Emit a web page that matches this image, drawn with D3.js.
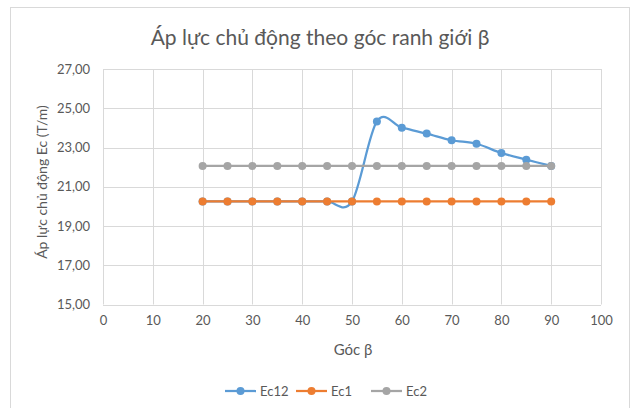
<!DOCTYPE html>
<html>
<head>
<meta charset="utf-8">
<script src="https://cdn.jsdelivr.net/npm/d3@7/dist/d3.min.js"></script>
<style>
  html, body { margin: 0; padding: 0; background: #fff; }
  svg { display: block; font-family: Lato, "Noto Sans", sans-serif; }
</style>
</head>
<body>
<svg id="chart" width="631" height="408"></svg>
<script>
// Góc ranh giới β (degrees)
const angles = [20, 25, 30, 35, 40, 45, 50, 55, 60, 65, 70, 75, 80, 85, 90];
// Áp lực chủ động (T/m)
const ec12 = [20.25, 20.25, 20.25, 20.25, 20.25, 20.25, 20.25, 24.33, 24.01, 23.71, 23.37, 23.19, 22.72, 22.38, 22.06];
const ec1  = [20.25, 20.25, 20.25, 20.25, 20.25, 20.25, 20.25, 20.25, 20.25, 20.25, 20.25, 20.25, 20.25, 20.25, 20.25];
const ec2  = [22.06, 22.06, 22.06, 22.06, 22.06, 22.06, 22.06, 22.06, 22.06, 22.06, 22.06, 22.06, 22.06, 22.06, 22.06];
const seriesNames = ["Ec12", "Ec1", "Ec2"];
const seriesColors = ["#5B9BD5", "#ED7D31", "#A5A5A5"];
const xTicks = [0, 10, 20, 30, 40, 50, 60, 70, 80, 90, 100];
const yTicks = [15, 17, 19, 21, 23, 25, 27];

const svg = d3.select("#chart");
const textColor = "#595959";
const gridColor = "#D9D9D9";
const fontFamily = "Lato, 'Noto Sans', sans-serif";

// chart frame
svg.append("rect")
  .attr("x", 10.5).attr("y", 7.5)
  .attr("width", 619).attr("height", 410)
  .attr("fill", "#fff").attr("stroke", "#D9D9D9").attr("stroke-width", 1);

const plot = { left: 103, right: 601, top: 69, bottom: 304.5 };
const x = d3.scaleLinear().domain([0, 100]).range([plot.left, plot.right]);
const y = d3.scaleLinear().domain([15, 27]).range([plot.bottom, plot.top]);

const fmt = v => d3.format(".2f")(v).replace(".", ",");

// gridlines
const grid = svg.append("g");
grid.selectAll("line.h").data(yTicks).join("line")
  .attr("x1", plot.left).attr("x2", plot.right)
  .attr("y1", d => Math.round(y(d)) + 0.5).attr("y2", d => Math.round(y(d)) + 0.5)
  .attr("stroke", gridColor).attr("stroke-width", 1);
grid.selectAll("line.v").data(xTicks).join("line")
  .attr("y1", plot.top).attr("y2", plot.bottom)
  .attr("x1", d => Math.round(x(d)) + 0.5).attr("x2", d => Math.round(x(d)) + 0.5)
  .attr("stroke", gridColor).attr("stroke-width", 1);

// axes (labels only)
const xAxis = svg.append("g")
  .attr("transform", `translate(0,${plot.bottom})`)
  .call(d3.axisBottom(x).tickValues(xTicks).tickSize(0).tickPadding(11).tickFormat(d3.format("d")));
xAxis.select(".domain").remove();
xAxis.selectAll("text").attr("fill", textColor).attr("font-size", 13).attr("font-family", fontFamily);

const yAxis = svg.append("g")
  .attr("transform", `translate(${plot.left},0)`)
  .call(d3.axisLeft(y).tickValues(yTicks).tickSize(0).tickPadding(13).tickFormat(fmt));
yAxis.select(".domain").remove();
yAxis.selectAll("text").attr("fill", textColor).attr("font-size", 13).attr("font-family", fontFamily);

// titles
svg.append("text")
  .attr("x", 320).attr("y", 45)
  .attr("text-anchor", "middle")
  .attr("fill", textColor).attr("font-size", 21)
  .text("Áp lực chủ động theo góc ranh giới β");

svg.append("text")
  .attr("x", 353).attr("y", 355)
  .attr("text-anchor", "middle")
  .attr("fill", textColor).attr("font-size", 15)
  .text("Góc β");

svg.append("text")
  .attr("transform", "translate(47,182) rotate(-90)")
  .attr("text-anchor", "middle")
  .attr("fill", textColor).attr("font-size", 14)
  .text("Áp lực chủ động Ec (T/m)");

// series
const allSeries = [ec12, ec1, ec2].map((vals, i) => ({
  name: seriesNames[i],
  color: seriesColors[i],
  points: angles.map((a, j) => ({ a, v: vals[j] }))
}));

const line = d3.line()
  .x(d => x(d.a)).y(d => y(d.v))
  .curve(d3.curveCardinal.tension(0));

const series = svg.append("g").selectAll("g").data(allSeries).join("g");
series.append("path")
  .attr("d", d => line(d.points))
  .attr("fill", "none")
  .attr("stroke", d => d.color)
  .attr("stroke-width", 2.25)
  .attr("stroke-linecap", "round");
series.each(function(s) {
  d3.select(this).selectAll("circle").data(s.points).join("circle")
    .attr("cx", d => x(d.a)).attr("cy", d => y(d.v))
    .attr("r", 4)
    .attr("fill", s.color);
});

// legend
const legendItems = [
  { name: "Ec12", x0: 225 },
  { name: "Ec1", x0: 296 },
  { name: "Ec2", x0: 371 }
];
const legend = svg.append("g").selectAll("g").data(legendItems).join("g")
  .attr("transform", d => `translate(${d.x0},391)`);
legend.append("line")
  .attr("x1", 0).attr("x2", 31).attr("y1", 0).attr("y2", 0)
  .attr("stroke", (d, i) => seriesColors[i]).attr("stroke-width", 2.25);
legend.append("circle")
  .attr("cx", 15.5).attr("cy", 0).attr("r", 4)
  .attr("fill", (d, i) => seriesColors[i]);
legend.append("text")
  .attr("x", 35).attr("y", 4.5)
  .attr("fill", textColor).attr("font-size", 13)
  .text(d => d.name);
</script>
</body>
</html>
